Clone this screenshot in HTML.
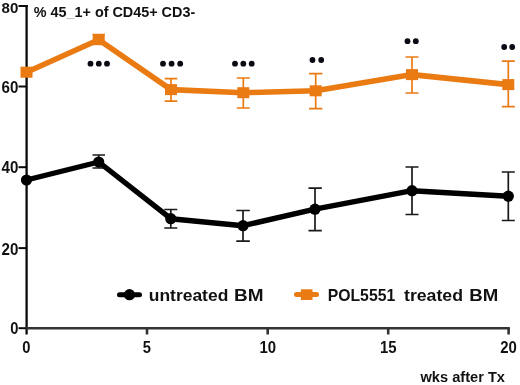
<!DOCTYPE html>
<html>
<head>
<meta charset="utf-8">
<title>Chart</title>
<style>
html,body{margin:0;padding:0;background:#fff;}
body{width:520px;height:385px;overflow:hidden;}
svg{display:block;filter:blur(0.45px);}
text{font-family:"Liberation Sans",sans-serif;font-weight:bold;fill:#111;}
</style>
</head>
<body>
<svg width="520" height="385" viewBox="0 0 520 385">
<rect width="520" height="385" fill="#fff"/>

<!-- axes -->
<g stroke="#0a0a0a" stroke-width="2.3" fill="none">
  <line x1="26.6" y1="5" x2="26.6" y2="334.5"/>
  <line x1="18.5" y1="6" x2="27.7" y2="6" stroke-width="2"/>
  <line x1="18.5" y1="86.5" x2="26" y2="86.5" stroke-width="2"/>
  <line x1="18.5" y1="167.2" x2="26" y2="167.2" stroke-width="2"/>
  <line x1="18.5" y1="248.1" x2="26" y2="248.1" stroke-width="2"/>
  <line x1="18.5" y1="328.2" x2="26" y2="328.2" stroke-width="2"/>
</g>
<g stroke="#333" stroke-width="2.6" fill="none">
  <line x1="26" y1="328.2" x2="509.8" y2="328.2"/>
  <line x1="147" y1="328" x2="147" y2="334.5"/>
  <line x1="267.7" y1="328" x2="267.7" y2="334.5"/>
  <line x1="388.2" y1="328" x2="388.2" y2="334.5"/>
  <line x1="508.6" y1="328" x2="508.6" y2="334.5"/>
</g>

<!-- y labels -->
<g font-size="16">
  <text x="1.6" y="13.3" font-size="15.2" textLength="16.8" lengthAdjust="spacingAndGlyphs">80</text>
  <text x="1.6" y="92.7" textLength="16.8" lengthAdjust="spacingAndGlyphs">60</text>
  <text x="1.6" y="173.2" textLength="16.8" lengthAdjust="spacingAndGlyphs">40</text>
  <text x="1.6" y="255" textLength="16.8" lengthAdjust="spacingAndGlyphs">20</text>
  <text x="10.2" y="334.2" textLength="8.2" lengthAdjust="spacingAndGlyphs">0</text>
</g>
<!-- x labels -->
<g font-size="16" lengthAdjust="spacingAndGlyphs">
  <text x="22.2" y="352.9" textLength="8.2" lengthAdjust="spacingAndGlyphs">0</text>
  <text x="142.8" y="352.9" textLength="8.2" lengthAdjust="spacingAndGlyphs">5</text>
  <text x="259.4" y="352.9" textLength="16.6" lengthAdjust="spacingAndGlyphs">10</text>
  <text x="379.9" y="352.9" textLength="16.6" lengthAdjust="spacingAndGlyphs">15</text>
  <text x="500.2" y="352.9" textLength="16.6" lengthAdjust="spacingAndGlyphs">20</text>
</g>

<!-- title -->
<text x="33.7" y="16.6" font-size="15" textLength="161.5" lengthAdjust="spacingAndGlyphs">% 45<tspan fill="#999">_</tspan>1+ of CD45+ CD3-</text>
<text x="420.5" y="381.9" font-size="15" textLength="84.5" lengthAdjust="spacingAndGlyphs">wks after Tx</text>

<!-- orange error bars -->
<g stroke="#ea7a12" stroke-width="1.7" fill="none">
  <path d="M98.7 34.5V44.5M92.5 34.5H105"/>
  <path d="M171 78.7V101.2M164.7 78.7H177.3M164.7 101.2H177.3"/>
  <path d="M243.3 78V108M236.8 78H249.8M236.8 108H249.8"/>
  <path d="M315.7 73.7V108.7M309 73.7H322.4M309 108.7H322.4"/>
  <path d="M412 57V93M405.5 57H418.5M405.5 93H418.5"/>
  <path d="M508.3 61.2V106.7M501.8 61.2H514.8M501.8 106.7H514.8"/>
</g>
<!-- orange line -->
<polyline points="26.5,72.2 98.7,39.7 171,89.6 243.3,92.7 315.7,90.8 412,74.6 508.3,84.6" fill="none" stroke="#ea7a12" stroke-width="5.6" stroke-linejoin="round" stroke-linecap="round"/>
<g fill="#ea7a12">
  <rect x="20.5" y="66.7" width="12" height="11"/>
  <rect x="92.7" y="34.2" width="12" height="11"/>
  <rect x="165.0" y="84.1" width="12" height="11"/>
  <rect x="237.3" y="87.2" width="12" height="11"/>
  <rect x="309.7" y="85.3" width="12" height="11"/>
  <rect x="406.0" y="69.1" width="12" height="11"/>
  <rect x="502.3" y="79.1" width="12" height="11"/>
</g>

<!-- black error bars -->
<g stroke="#1a1a1a" stroke-width="1.7" fill="none">
  <path d="M98.7 155V168M92.5 155H105M92.5 168H105"/>
  <path d="M170.8 209.5V228M164.3 209.5H177.3M164.3 228H177.3"/>
  <path d="M243 210.5V241.2M236.3 210.5H249.8M236.3 241.2H249.8"/>
  <path d="M315 188.2V230.7M308.5 188.2H321.8M308.5 230.7H321.8"/>
  <path d="M412 167V214.5M405.5 167H418.5M405.5 214.5H418.5"/>
  <path d="M508.3 172V220.5M501.8 172H514.8M501.8 220.5H514.8"/>
</g>
<!-- black line -->
<polyline points="26.5,180 98.7,162 170.8,218.7 243,225.7 315,209.2 412,190.7 508.3,196.2" fill="none" stroke="#000" stroke-width="5.4" stroke-linejoin="round" stroke-linecap="round"/>
<g fill="#000">
  <circle cx="26.5" cy="180" r="5.6"/>
  <circle cx="98.7" cy="162" r="5.6"/>
  <circle cx="170.8" cy="218.7" r="5.6"/>
  <circle cx="243" cy="225.7" r="5.6"/>
  <circle cx="315" cy="209.2" r="5.6"/>
  <circle cx="412" cy="190.7" r="5.6"/>
  <circle cx="508.3" cy="196.2" r="5.6"/>
</g>

<!-- significance dots -->
<g fill="#0a0a14">
  <circle cx="90.5" cy="63.7" r="2.9"/><circle cx="98.8" cy="63.7" r="2.9"/><circle cx="107" cy="63.7" r="2.9"/>
  <circle cx="163" cy="63.7" r="2.9"/><circle cx="171.6" cy="63.7" r="2.9"/><circle cx="180.2" cy="63.7" r="2.9"/>
  <circle cx="235" cy="63.7" r="2.9"/><circle cx="243.3" cy="63.7" r="2.9"/><circle cx="251.7" cy="63.7" r="2.9"/>
  <circle cx="312.5" cy="60" r="2.9"/><circle cx="321.2" cy="60" r="2.9"/>
  <circle cx="407.5" cy="41.2" r="2.9"/><circle cx="415.8" cy="41.2" r="2.9"/>
  <circle cx="504.2" cy="47" r="2.9"/><circle cx="512.2" cy="47" r="2.9"/>
</g>

<!-- legend -->
<line x1="119.5" y1="294.7" x2="139.5" y2="294.7" stroke="#000" stroke-width="5" stroke-linecap="round"/>
<circle cx="129.5" cy="294.7" r="5.6" fill="#000"/>
<text x="148.8" y="300.6" font-size="16.5" textLength="79.5" lengthAdjust="spacingAndGlyphs">untreated</text>
<text x="234" y="300.6" font-size="16.5" textLength="29.5" lengthAdjust="spacingAndGlyphs">BM</text>
<line x1="296.5" y1="294.6" x2="316.5" y2="294.6" stroke="#ea7a12" stroke-width="5" stroke-linecap="round"/>
<rect x="300.9" y="289.3" width="11.6" height="10.7" fill="#ea7a12"/>
<text x="327.7" y="300.6" font-size="16.5" textLength="67.5" lengthAdjust="spacingAndGlyphs">POL5551</text>
<text x="404" y="300.6" font-size="16.5" textLength="59" lengthAdjust="spacingAndGlyphs">treated</text>
<text x="469.3" y="300.6" font-size="16.5" textLength="29" lengthAdjust="spacingAndGlyphs">BM</text>
</svg>
</body>
</html>
